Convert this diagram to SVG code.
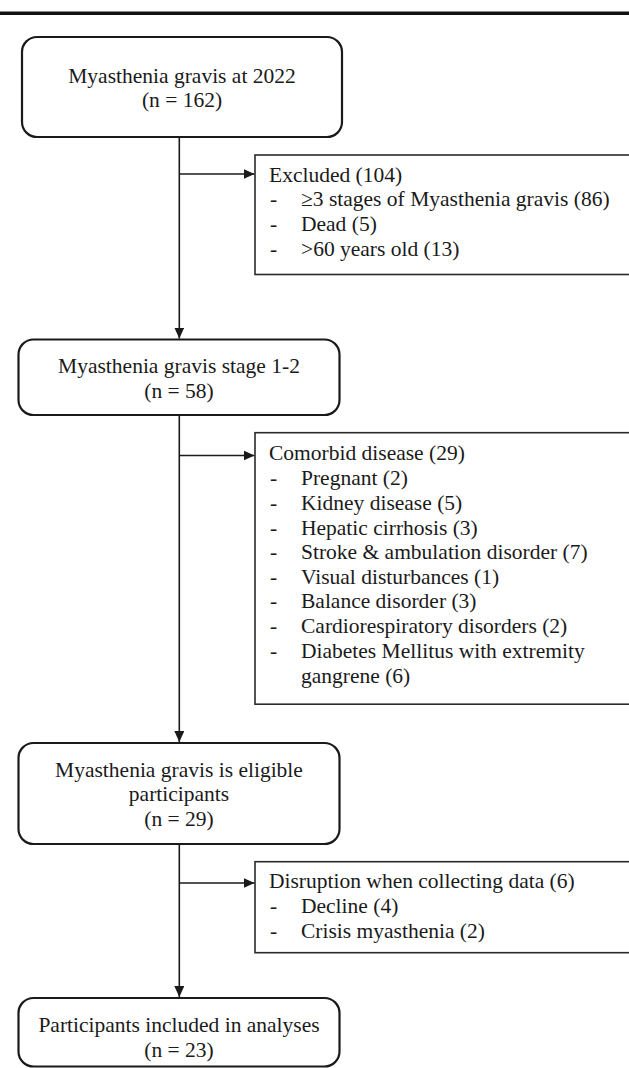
<svg xmlns="http://www.w3.org/2000/svg" width="629" height="1068" viewBox="0 0 629 1068">
<style>
.box{fill:#fff;stroke:#1a1a1a;stroke-width:2.2}
.sbox{fill:#fff;stroke:#2a2a2a;stroke-width:1.6}
.c{fill:none;stroke:#1a1a1a;stroke-width:1.6}
text{font-family:"Liberation Serif","Times New Roman",serif;font-size:21.5px;fill:#1a1a1a}
.m{text-anchor:middle}
</style>
<defs>
<marker id="ah" markerUnits="userSpaceOnUse" markerWidth="12" markerHeight="10" refX="11" refY="5" orient="auto">
<path d="M0,0 L11,5 L0,10 Z" fill="#1a1a1a"/>
</marker>
</defs>
<rect x="0" y="11.5" width="629" height="3.5" fill="#111"/>
<g id="connectors">
<line class="c" x1="179.3" y1="137" x2="179.3" y2="338.5" marker-end="url(#ah)"/>
<line class="c" x1="179.3" y1="174" x2="254.5" y2="174" marker-end="url(#ah)"/>
<line class="c" x1="179.3" y1="415" x2="179.3" y2="742" marker-end="url(#ah)"/>
<line class="c" x1="179.3" y1="455.5" x2="254.5" y2="455.5" marker-end="url(#ah)"/>
<line class="c" x1="179.3" y1="844" x2="179.3" y2="997" marker-end="url(#ah)"/>
<line class="c" x1="179.3" y1="883" x2="254.5" y2="883" marker-end="url(#ah)"/>
</g>
<g id="n1">
<rect class="box" x="22" y="37" width="320" height="100" rx="15"/>
<text class="m" x="182" y="82.5">Myasthenia gravis at 2022</text>
<text class="m" x="182" y="107">(n = 162)</text>
</g>
<g id="ex1">
<rect class="sbox" x="255" y="155" width="400" height="119.5"/>
<text x="269" y="181.5">Excluded (104)</text>
<text x="270" y="206">-</text><text x="301" y="206">≥3 stages of Myasthenia gravis (86)</text>
<text x="270" y="231">-</text><text x="301" y="231">Dead (5)</text>
<text x="270" y="255.5">-</text><text x="301" y="255.5">&gt;60 years old (13)</text>
</g>
<g id="n2">
<rect class="box" x="18.5" y="339.5" width="321" height="75.5" rx="15"/>
<text class="m" x="179" y="373">Myasthenia gravis stage 1-2</text>
<text class="m" x="179" y="397.5">(n = 58)</text>
</g>
<g id="ex2">
<rect class="sbox" x="255" y="432.7" width="400" height="271.5"/>
<text x="269" y="460">Comorbid disease (29)</text>
<text x="270" y="485">-</text><text x="301" y="485">Pregnant (2)</text>
<text x="270" y="509.7">-</text><text x="301" y="509.7">Kidney disease (5)</text>
<text x="270" y="534.5">-</text><text x="301" y="534.5">Hepatic cirrhosis (3)</text>
<text x="270" y="559">-</text><text x="301" y="559">Stroke &amp; ambulation disorder (7)</text>
<text x="270" y="583.5">-</text><text x="301" y="583.5">Visual disturbances (1)</text>
<text x="270" y="608.3">-</text><text x="301" y="608.3">Balance disorder (3)</text>
<text x="270" y="633">-</text><text x="301" y="633">Cardiorespiratory disorders (2)</text>
<text x="270" y="658">-</text><text x="301" y="658">Diabetes Mellitus with extremity</text>
<text x="301" y="683">gangrene (6)</text>
</g>
<g id="n3">
<rect class="box" x="18.5" y="743" width="321" height="101" rx="15"/>
<text class="m" x="179" y="776.5">Myasthenia gravis is eligible</text>
<text class="m" x="179" y="801">participants</text>
<text class="m" x="179" y="826">(n = 29)</text>
</g>
<g id="ex3">
<rect class="sbox" x="255" y="861.7" width="400" height="91"/>
<text x="269" y="888.3">Disruption when collecting data (6)</text>
<text x="270" y="913">-</text><text x="301" y="913">Decline (4)</text>
<text x="270" y="937.5">-</text><text x="301" y="937.5">Crisis myasthenia (2)</text>
</g>
<g id="n4">
<rect class="box" x="18.5" y="998" width="321" height="68.5" rx="15"/>
<text class="m" x="179" y="1031.5">Participants included in analyses</text>
<text class="m" x="179" y="1056.5">(n = 23)</text>
</g>
</svg>
